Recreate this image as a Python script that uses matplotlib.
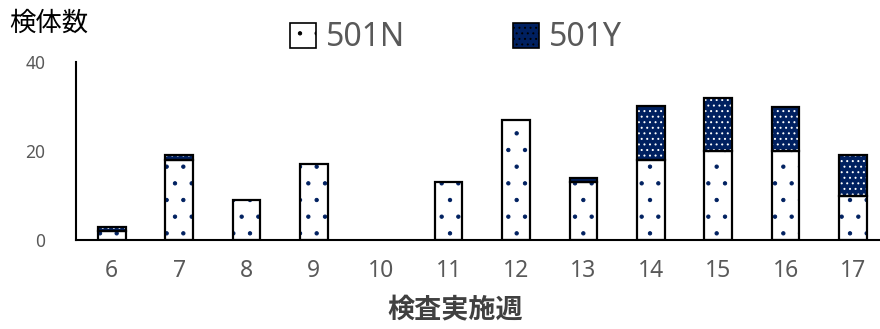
import matplotlib
matplotlib.use("Agg")
import matplotlib.pyplot as plt
from matplotlib.patches import Patch
import numpy as np

plt.rcParams['font.family'] = ['Noto Sans', 'Noto Sans CJK JP', 'DejaVu Sans']
plt.rcParams['hatch.linewidth'] = 0.7

weeks = ['6', '7', '8', '9', '10', '11', '12', '13', '14', '15', '16', '17']
n501 = [2, 18, 9, 17, 0, 13, 27, 13, 18, 20, 20, 10]
y501 = [1, 1, 0, 0, 0, 0, 0, 1, 12, 12, 10, 9]
yticks = [0, 20, 40]

navy = '#002060'
gray = '#595959'

fig = plt.figure(figsize=(8.8, 3.29), dpi=100)
ax = fig.add_axes([76/880, 89/329, 1 - 76/880, (240-62)/329])

x = np.arange(len(weeks))
w = 0.41
n = np.array(n501)
y = np.array(y501)

# 501N: white with navy dots
mn = n > 0
ax.bar(x[mn], n[mn], w, color='white', edgecolor=navy, hatch='.', linewidth=0, zorder=2)
ax.bar(x[mn], n[mn], w, fill=False, edgecolor='black', linewidth=1.6, zorder=3)
# 501Y: navy with white dots
my = y > 0
ax.bar(x[my], y[my], w, bottom=n[my], color=navy, edgecolor='white', hatch='...', linewidth=0, zorder=2)
ax.bar(x[my], y[my], w, bottom=n[my], fill=False, edgecolor='black', linewidth=1.6, zorder=3)

ax.set_xlim(-0.53, 11.4)
ax.set_ylim(0, 40)
ax.set_yticks(yticks)
ax.set_xticks(x)
ax.set_xticklabels(weeks)
ax.tick_params(axis='y', length=0, labelsize=12.5, labelcolor=gray, pad=22)
ax.tick_params(axis='x', length=0, labelsize=16.5, labelcolor=gray, pad=14)
for s in ['top', 'right']:
    ax.spines[s].set_visible(False)
ax.spines['left'].set_linewidth(1.5)
ax.spines['bottom'].set_linewidth(1.5)

fig.text(0.01, 1 - 23/329, '検体数', fontsize=19, color='black', ha='left', va='center',
         family=['Noto Sans CJK JP', 'DejaVu Sans'])
fig.text(455/880, 1 - 310/329, '検査実施週', fontsize=19.5, fontweight='bold', color='#404040',
         ha='center', va='center', family=['Noto Sans CJK JP', 'DejaVu Sans'])

h1 = Patch(facecolor='white', edgecolor='black', hatch='.', linewidth=1.2)
h2 = Patch(facecolor=navy, edgecolor='black', hatch='...', linewidth=1.2)
leg = fig.legend([h1, h2], ['501N', '501Y'], loc='center', bbox_to_anchor=(456/880, 1 - 38/329),
                 ncol=2, frameon=False, fontsize=23, handlelength=0.8, handleheight=0.8,
                 handletextpad=0.3, columnspacing=3.4, labelcolor=gray)

fig.savefig('out.png', dpi=100)
